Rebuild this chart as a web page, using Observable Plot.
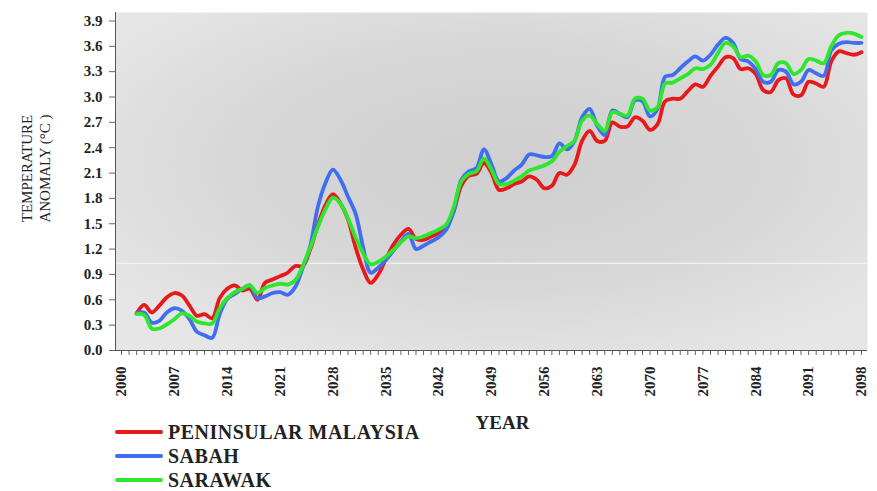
<!DOCTYPE html>
<html>
<head>
<meta charset="utf-8">
<script src="https://cdn.jsdelivr.net/npm/d3@7"></script>
<script src="https://cdn.jsdelivr.net/npm/@observablehq/plot@0.6"></script>
<style>
  body { margin: 0; background: #fff; }
  #wrap { position: relative; width: 877px; height: 491px; font-family: "Liberation Serif", "Times New Roman", serif; }
  #legend { position: absolute; left: 115px; top: 420px; }
  .item { display: flex; align-items: center; height: 24px; font-weight: bold; font-size: 20px; letter-spacing: 0.5px; color: #222; }
  .swatch { width: 48px; height: 4px; margin-right: 5px; border-radius: 2px; }
</style>
</head>
<body>
<div id="wrap"></div>
<script>
// Projected temperature anomaly (°C) by region, one value per year
const years = d3.range(2002, 2099);

const peninsular = [
  0.44, 0.54, 0.45, 0.53, 0.63, 0.68, 0.65, 0.53, 0.41, 0.43,
  0.38, 0.62, 0.73, 0.77, 0.71, 0.73, 0.60, 0.80, 0.84, 0.88,
  0.92, 1.00, 1.00, 1.20, 1.48, 1.72, 1.85, 1.74, 1.55, 1.22,
  0.96, 0.80, 0.90, 1.08, 1.25, 1.37, 1.44, 1.32, 1.31, 1.35,
  1.39, 1.46, 1.65, 1.95, 2.07, 2.09, 2.22, 2.10, 1.90, 1.92,
  1.97, 2.00, 2.06, 2.02, 1.92, 1.95, 2.10, 2.08, 2.20, 2.48,
  2.60, 2.48, 2.48, 2.70, 2.65, 2.65, 2.76, 2.72, 2.61, 2.68,
  2.95, 2.98, 2.98, 3.07, 3.15, 3.12, 3.25, 3.36, 3.47, 3.46,
  3.33, 3.34, 3.27, 3.08, 3.06, 3.20, 3.22, 3.03, 3.02, 3.18,
  3.16, 3.12, 3.42, 3.54, 3.52, 3.50, 3.53
];

const sabah = [
  0.44, 0.45, 0.33, 0.35, 0.45, 0.50, 0.47, 0.37, 0.22, 0.18,
  0.15, 0.43, 0.61, 0.67, 0.73, 0.77, 0.62, 0.64, 0.68, 0.69,
  0.66, 0.75, 0.98, 1.24, 1.70, 1.98, 2.14, 2.02, 1.82, 1.62,
  1.22, 0.92, 0.98, 1.07, 1.18, 1.29, 1.38, 1.20, 1.24, 1.29,
  1.34, 1.43, 1.65, 2.02, 2.12, 2.16, 2.38, 2.20, 2.00, 2.04,
  2.13, 2.20, 2.32, 2.31, 2.29, 2.30, 2.45, 2.38, 2.48, 2.76,
  2.86, 2.66, 2.55, 2.84, 2.80, 2.76, 2.96, 2.95, 2.77, 2.86,
  3.24, 3.26, 3.34, 3.42, 3.48, 3.43, 3.50, 3.62, 3.70, 3.64,
  3.45, 3.42, 3.33, 3.18, 3.18, 3.32, 3.30, 3.15, 3.18, 3.32,
  3.28, 3.25, 3.55, 3.63, 3.65, 3.64, 3.64
];

const sarawak = [
  0.43, 0.42, 0.26, 0.26, 0.31, 0.37, 0.44, 0.41, 0.34, 0.32,
  0.32, 0.50, 0.62, 0.69, 0.73, 0.77, 0.68, 0.74, 0.77, 0.79,
  0.78, 0.83, 1.00, 1.22, 1.46, 1.67, 1.81, 1.74, 1.56, 1.34,
  1.15, 1.02, 1.05, 1.11, 1.19, 1.28, 1.35, 1.33, 1.35, 1.39,
  1.43, 1.49, 1.70, 2.00, 2.09, 2.12, 2.27, 2.14, 1.97, 1.97,
  2.01, 2.06, 2.13, 2.16, 2.19, 2.24, 2.35, 2.42, 2.48, 2.72,
  2.78, 2.68, 2.60, 2.82, 2.80, 2.78, 2.98, 2.98, 2.84, 2.88,
  3.16, 3.17, 3.22, 3.27, 3.34, 3.33, 3.38, 3.52, 3.64, 3.60,
  3.47, 3.49, 3.42, 3.26, 3.26, 3.40, 3.40, 3.27, 3.32, 3.45,
  3.43, 3.40, 3.60, 3.73, 3.76, 3.75, 3.71
];

const regions = ["PENINSULAR MALAYSIA", "SABAH", "SARAWAK"];
const regionColors = ["#e8191b", "#3f6ff0", "#2ee62e"];

const yTickValues = [0.0, 0.3, 0.6, 0.9, 1.2, 1.5, 1.8, 2.1, 2.4, 2.7, 3.0, 3.3, 3.6, 3.9];
const xLabelYears = [2000, 2007, 2014, 2021, 2028, 2035, 2042, 2049, 2056, 2063, 2070, 2077, 2084, 2091, 2098];
const xMinorYears = d3.range(2000, 2099);

// long-format table for the line mark
const rows = [];
[peninsular, sabah, sarawak].forEach((vals, i) => {
  vals.forEach((v, j) => rows.push({ year: years[j], value: v, region: regions[i] }));
});

const serif = '"Liberation Serif", "Times New Roman", serif';
const xDomain = [1999.2, 2098.8];

const chart = Plot.plot({
  width: 877,
  height: 491,
  marginLeft: 115,
  marginRight: 10,
  marginTop: 12,
  marginBottom: 141,
  style: { fontFamily: serif, background: "transparent", color: "#222" },
  x: { domain: xDomain },
  y: { domain: [0, 4.0] },
  color: { domain: regions, range: regionColors },
  marks: [
    Plot.frame({ fill: "url(#plotBg)", stroke: "none" }),
    Plot.ruleY([1.03], { stroke: "#f2f2f2", strokeWidth: 1.2 }),
    Plot.axisY({
      ticks: yTickValues, tickFormat: d3.format(".1f"), tickSize: 6, tickPadding: 7,
      fontSize: 15, fontWeight: "bold", label: null, stroke: "#666"
    }),
    Plot.axisX({ ticks: xMinorYears, tickFormat: () => "", tickSize: 5, label: null, stroke: "#666" }),
    Plot.axisX({
      ticks: xLabelYears, tickFormat: "d", tickSize: 0, tickPadding: 16, tickRotate: -90,
      fontSize: 15, fontWeight: "bold", label: null
    }),
    Plot.ruleX([xDomain[0]], { stroke: "#555" }),
    Plot.ruleY([0], { stroke: "#555" }),
    Plot.line(rows, {
      x: "year", y: "value", z: "region", stroke: "region",
      strokeWidth: 3.8, curve: "catmull-rom", strokeLinejoin: "round"
    }),
    Plot.text(["TEMPERATURE"], {
      text: d => d, frameAnchor: "left", textAnchor: "middle", rotate: -90, dx: -88, dy: -13,
      fontSize: 15, fill: "#222"
    }),
    Plot.text(["ANOMALY (°C )"], {
      text: d => d, frameAnchor: "left", textAnchor: "middle", rotate: -90, dx: -70, dy: -13,
      fontSize: 15, fill: "#222"
    }),
    Plot.text(["YEAR"], {
      text: d => d, frameAnchor: "bottom", dx: 11, dy: 78,
      fontSize: 19, fontWeight: "bold", fill: "#222"
    })
  ]
});

// soft radial shading behind the plot area
const defs = d3.select(chart).insert("defs", ":first-child");
const grad = defs.append("radialGradient")
  .attr("id", "plotBg").attr("cx", "0.52").attr("cy", "0.45").attr("r", "0.65");
grad.append("stop").attr("offset", "0%").attr("stop-color", "#cfcfcf");
grad.append("stop").attr("offset", "55%").attr("stop-color", "#d7d7d7");
grad.append("stop").attr("offset", "100%").attr("stop-color", "#e6e6e6");

const wrap = document.getElementById("wrap");
wrap.appendChild(chart);

// legend below the axis
const legend = document.createElement("div");
legend.id = "legend";
regions.forEach((name, i) => {
  const item = document.createElement("div");
  item.className = "item";
  const sw = document.createElement("span");
  sw.className = "swatch";
  sw.style.background = regionColors[i];
  const label = document.createElement("span");
  label.textContent = name;
  item.appendChild(sw);
  item.appendChild(label);
  legend.appendChild(item);
});
wrap.appendChild(legend);
</script>
</body>
</html>
